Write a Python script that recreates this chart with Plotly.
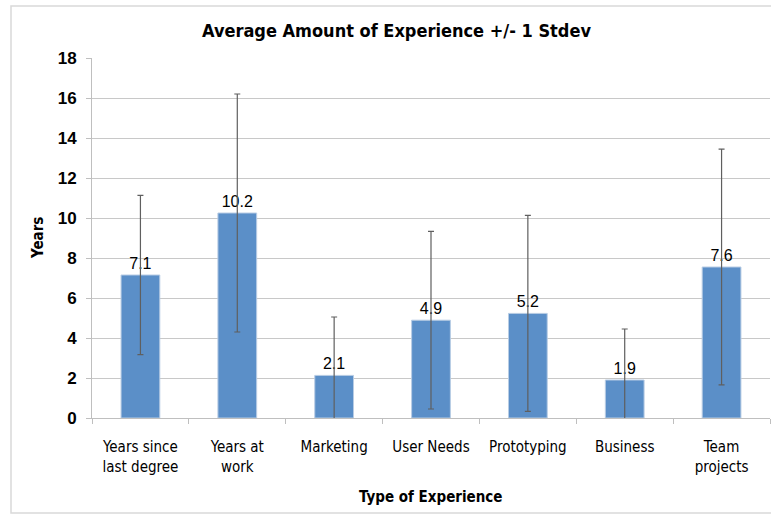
import plotly.graph_objects as go

categories = ["Years since<br>last degree", "Years at<br>work", "Marketing", "User Needs",
              "Prototyping", "Business", "Team<br>projects"]
means = [7.15, 10.25, 2.13, 4.89, 5.23, 1.9, 7.55]
labels = ["7.1", "10.2", "2.1", "4.9", "5.2", "1.9", "7.6"]
stdevs = [3.98, 5.95, 2.92, 4.44, 4.9, 2.55, 5.89]
y_ticks = [0, 2, 4, 6, 8, 10, 12, 14, 16, 18]

W, H = 771, 515
L, R, T, B = 92, 1, 58, 97
pw, ph = W - L - R, H - T - B

def px_x(p):
    return (p - L) / pw

def px_y(p):
    return (H - B - p) / ph

narrow = "DejaVu Sans Condensed, Roboto, Arial"

fig = go.Figure(go.Bar(
    x=categories, y=means,
    marker=dict(color="#5b8fc8", line=dict(color="#b8cce4", width=1)),
    width=0.4,
    text=labels, textposition="outside",
    textfont=dict(family="Liberation Sans, Arial", size=16, color="#000000"),
    cliponaxis=False,
    error_y=dict(type="data", array=stdevs, visible=True, color="#5f5f5f",
                 thickness=1.2, width=3),
))

fig.update_layout(
    width=W, height=H,
    margin=dict(l=L, r=R, t=T, b=B, autoexpand=False),
    paper_bgcolor="white", plot_bgcolor="white",
    showlegend=False,
    shapes=[dict(type="rect", xref="paper", yref="paper",
                 x0=px_x(11), x1=px_x(782), y0=px_y(513), y1=px_y(6),
                 line=dict(color="#d9d9d9", width=1.5), layer="below")],
    annotations=[
        dict(text="<b>Average Amount of Experience +/- 1 Stdev</b>", xref="paper", yref="paper",
             x=px_x(396), y=px_y(30), showarrow=False, xanchor="center", yanchor="middle",
             font=dict(family=narrow, size=18, color="#000000")),
        dict(text="<b>Years</b>", xref="paper", yref="paper", textangle=-90,
             x=px_x(38), y=px_y(238), showarrow=False, xanchor="center", yanchor="middle",
             font=dict(family=narrow, size=15, color="#000000")),
        dict(text="<b>Type of Experience</b>", xref="paper", yref="paper",
             x=px_x(431), y=px_y(497), showarrow=False, xanchor="center", yanchor="middle",
             font=dict(family=narrow, size=15, color="#000000")),
    ],
)

fig.update_xaxes(
    type="category", tickson="boundaries", ticks="outside", ticklen=5,
    tickcolor="#bfbfbf", showline=True, linecolor="#bfbfbf", linewidth=1,
    showgrid=False, tickfont=dict(family=narrow, size=15, color="#000000"),
    ticklabelstandoff=15,
)
fig.update_yaxes(
    range=[0, 18], tickvals=y_ticks, ticktext=["<b>%d</b>" % v for v in y_ticks],
    ticks="outside", ticklen=5, tickcolor="#bfbfbf",
    showline=True, linecolor="#bfbfbf", linewidth=1,
    showgrid=True, gridcolor="#c8c8c8", gridwidth=1, zeroline=False,
    tickfont=dict(family="Liberation Sans, Arial", size=17, color="#000000"),
    ticklabelstandoff=6,
)

fig.write_html("out.html", config={"displayModeBar": False},
               post_script="document.body.style.margin='0px';")
